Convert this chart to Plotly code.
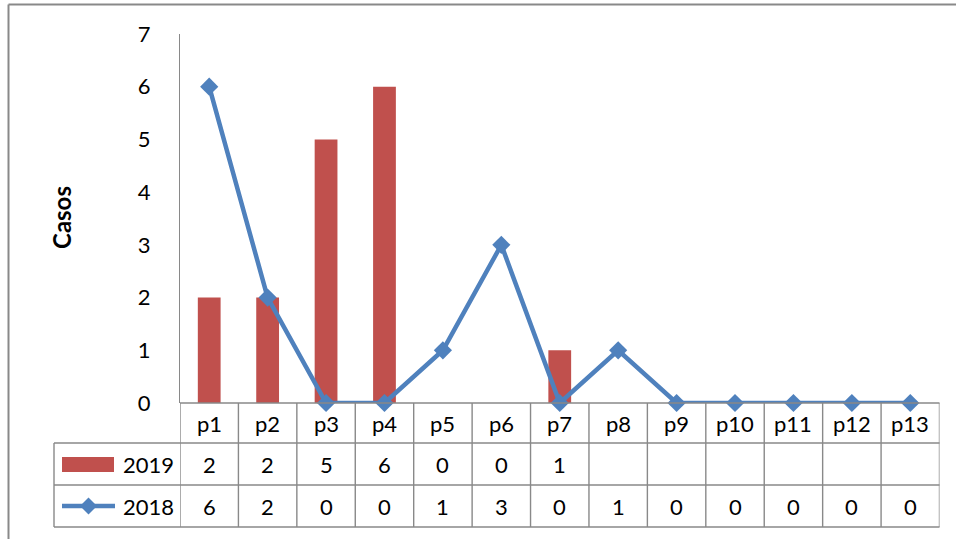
import plotly.graph_objects as go

# Chart data
categories = ["p1", "p2", "p3", "p4", "p5", "p6", "p7", "p8", "p9", "p10", "p11", "p12", "p13"]
cases_2019 = [2, 2, 5, 6, 0, 0, 1, None, None, None, None, None, None]
cases_2018 = [6, 2, 0, 0, 1, 3, 0, 1, 0, 0, 0, 0, 0]
y_ticks = [0, 1, 2, 3, 4, 5, 6, 7]

W, H = 956, 539
RED = "#C0504D"
BLUE = "#4F81BD"
GRID = "#898989"
FONT = "Lato, Carlito, sans-serif"


def px(x):
    return x / W


def py(y):
    return 1 - y / H


# plot area geometry in pixels
PLOT_L, PLOT_R = 180, 939.5
PLOT_T, PLOT_B = 34, 403
ROW_Y = [403, 443, 485, 527]   # table row boundaries
TABLE_L = 54

idx = list(range(len(categories)))

fig = go.Figure()
fig.add_trace(go.Bar(
    x=idx, y=cases_2019, width=0.39, marker=dict(color=RED, line=dict(width=0)),
    name="2019", showlegend=False,
))
fig.add_trace(go.Scatter(
    x=idx, y=cases_2018, mode="lines+markers", name="2018", showlegend=False,
    line=dict(color=BLUE, width=4.5),
    marker=dict(symbol="diamond", size=14, color=BLUE),
    cliponaxis=False,
))

shapes = []
line_style = dict(color=GRID, width=1.4)

# outer frame (left and top edges)
shapes.append(dict(type="line", xref="paper", yref="paper", x0=px(8.5), x1=px(8.5), y0=py(4.5), y1=0, line=dict(color=GRID, width=2)))
shapes.append(dict(type="line", xref="paper", yref="paper", x0=px(8.5), x1=1, y0=py(4.5), y1=py(4.5), line=dict(color=GRID, width=2)))

# data table grid: vertical separators between categories
for k in range(len(categories) + 1):
    shapes.append(dict(type="line", xref="x", yref="paper", x0=k - 0.5, x1=k - 0.5,
                       y0=py(ROW_Y[0]), y1=py(ROW_Y[-1]), line=line_style))
# horizontal rules
shapes.append(dict(type="line", xref="paper", yref="paper", x0=px(PLOT_L), x1=px(PLOT_R),
                   y0=py(ROW_Y[0]), y1=py(ROW_Y[0]), line=line_style))
for ry in ROW_Y[1:]:
    shapes.append(dict(type="line", xref="paper", yref="paper", x0=px(TABLE_L), x1=px(PLOT_R),
                       y0=py(ry), y1=py(ry), line=line_style))
# left edge of the series rows
shapes.append(dict(type="line", xref="paper", yref="paper", x0=px(TABLE_L), x1=px(TABLE_L),
                   y0=py(ROW_Y[1]), y1=py(ROW_Y[-1]), line=line_style))

# legend keys inside the table
shapes.append(dict(type="rect", xref="paper", yref="paper", x0=px(62), x1=px(114),
                   y0=py(457), y1=py(472), fillcolor=RED, line=dict(width=0)))
shapes.append(dict(type="line", xref="paper", yref="paper", x0=px(62), x1=px(115),
                   y0=py(506), y1=py(506), line=dict(color=BLUE, width=4.5)))
cx, cy, r = 88.5, 506, 8.5
shapes.append(dict(type="path", xref="paper", yref="paper",
                   path=f"M {px(cx - r)},{py(cy)} L {px(cx)},{py(cy - r)} L {px(cx + r)},{py(cy)} L {px(cx)},{py(cy + r)} Z",
                   fillcolor=BLUE, line=dict(width=0)))

annotations = []
tfont = dict(family=FONT, size=22, color="black")
row_mid = [(ROW_Y[i] + ROW_Y[i + 1]) / 2 for i in range(3)]


def cell(x, y, text, xref="x", xanchor="center"):
    return dict(x=x, y=y, xref=xref, yref="paper", text=text, showarrow=False,
                xanchor=xanchor, yanchor="middle", font=tfont)


for i, c in enumerate(categories):
    annotations.append(cell(i, py(row_mid[0]), c))
    if cases_2019[i] is not None:
        annotations.append(cell(i, py(row_mid[1]), str(cases_2019[i])))
    if cases_2018[i] is not None:
        annotations.append(cell(i, py(row_mid[2]), str(cases_2018[i])))
annotations.append(cell(px(176), py(row_mid[1]), "2019", xref="paper", xanchor="right"))
annotations.append(cell(px(176), py(row_mid[2]), "2018", xref="paper", xanchor="right"))
annotations.append(dict(x=px(62), y=py(218), xref="paper", yref="paper", text="<b>Casos</b>",
                        xanchor="center", yanchor="middle", textangle=-90, showarrow=False,
                        font=dict(family=FONT, size=24, color="black")))

fig.update_layout(
    width=W, height=H,
    margin=dict(l=0, r=0, t=0, b=0, pad=0, autoexpand=False),
    paper_bgcolor="white", plot_bgcolor="white",
    shapes=shapes, annotations=annotations,
    xaxis=dict(domain=[px(PLOT_L), px(PLOT_R)], range=[-0.5, len(categories) - 0.5], automargin=False,
               showticklabels=False, showgrid=False, zeroline=False, showline=False, ticks=""),
    yaxis=dict(domain=[py(PLOT_B), py(PLOT_T)], range=[0, 7], tickvals=y_ticks, automargin=False,
               showgrid=False, zeroline=False, showline=True, linecolor=GRID, linewidth=1.4,
               ticks="", ticklabelstandoff=24, tickfont=dict(family=FONT, size=22, color="black")),
    font=dict(family=FONT),
)

fig.write_html("out.html")
